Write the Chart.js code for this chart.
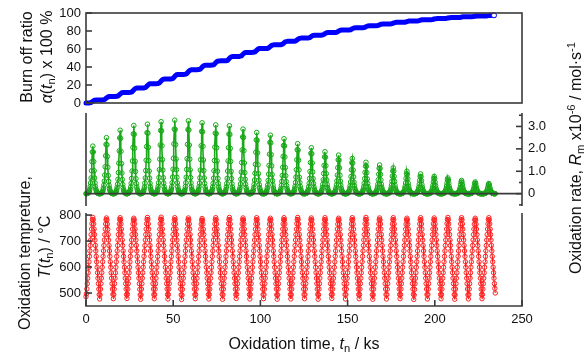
<!DOCTYPE html>
<html><head><meta charset="utf-8">
<script src="https://cdn.jsdelivr.net/npm/chart.js@4.4.1/dist/chart.umd.min.js"></script>
<style>
html,body{margin:0;padding:0;background:#fff;width:586px;height:354px;overflow:hidden;}
canvas{position:absolute;left:0;top:0;}
.t{position:absolute;white-space:nowrap;font-family:"Liberation Sans",Arial,sans-serif;font-size:16px;color:#111;line-height:1;}
.r{transform:translate(-50%,-50%) rotate(-90deg);}
.c{transform:translate(-50%,-50%);}
sub,sup{font-size:0.7em;line-height:0;}
sub{vertical-align:-0.3em;}
sup{vertical-align:0.55em;}
</style></head><body>
<canvas id="c1" width="586" height="354"></canvas>
<canvas id="c2" width="586" height="354"></canvas>
<canvas id="c3" width="586" height="354"></canvas>
<div class="t r" style="left:27px;top:57px">Burn off ratio</div>
<div class="t r" style="left:47px;top:57px"><i>α</i>(<i>t</i><sub>n</sub>) x 100 %</div>
<div class="t r" style="left:25px;top:253px">Oxidation tempreture,</div>
<div class="t r" style="left:45px;top:247px"><i>T</i>(<i>t</i><sub>n</sub>) / °C</div>
<div class="t r" style="left:576px;top:158px">Oxidation rate, <i>R</i><sub>m</sub> x10<sup>-6</sup> / mol·s<sup>-1</sup></div>
<div class="t c" style="left:304px;top:344px">Oxidation time, <i>t</i><sub>n</sub> / ks</div>
<script>
// ---- data ----
const timeStepKs = 0.2447;      // sampling interval of rate & temperature records (ks)
const burnOffStepKs = 0.9788;   // sampling interval of the burn-off record (ks)
const timeTicks = [0, 50, 100, 150, 200, 250];
const burnTicks = [0, 20, 40, 60, 80, 100];
const rateTicks = [0, 1, 2, 3];
const rateMinorTicks = [-0.5, 0.5, 1.5, 2.5, 3.5];
const tempTicks = [500, 600, 700, 800];

const burnOffRatio = [
0,0,0.1,0.5,1.9,3.1,3.3,3.4,
3.4,3.4,3.4,3.9,5.6,7.0,7.3,7.3,
7.3,7.3,7.4,8.0,9.9,11.4,11.8,11.8,
11.8,11.8,11.9,12.5,14.6,16.2,16.6,16.6,
16.6,16.6,16.7,17.3,19.4,21.1,21.5,21.5,
21.5,21.5,21.6,22.3,24.4,26.2,26.6,26.6,
26.6,26.6,26.7,27.4,29.6,31.4,31.8,31.8,
31.8,31.8,31.9,32.6,34.8,36.5,36.9,37.0,
37.0,37.0,37.1,37.7,39.8,41.5,41.9,42.0,
42.0,42.0,42.1,42.7,44.8,46.4,46.8,46.9,
46.9,46.9,46.9,47.5,49.6,51.2,51.6,51.7,
51.7,51.7,51.8,52.3,54.3,55.8,56.2,56.2,
56.2,56.2,56.3,56.8,58.7,60.2,60.5,60.6,
60.6,60.6,60.6,61.1,62.9,64.3,64.6,64.7,
64.7,64.7,64.8,65.2,66.9,68.2,68.5,68.6,
68.6,68.6,68.6,69.1,70.6,71.8,72.1,72.1,
72.1,72.1,72.2,72.6,74.0,75.1,75.3,75.4,
75.4,75.4,75.4,75.8,77.1,78.1,78.3,78.3,
78.3,78.3,78.4,78.7,79.9,80.8,81.0,81.1,
81.1,81.1,81.1,81.4,82.5,83.3,83.5,83.5,
83.5,83.5,83.6,83.8,84.8,85.6,85.7,85.8,
85.8,85.8,85.8,86.0,86.9,87.6,87.8,87.8,
87.8,87.8,87.8,88.0,88.8,89.4,89.6,89.6,
89.6,89.6,89.6,89.8,90.5,91.1,91.2,91.2,
91.2,91.2,91.2,91.4,92.0,92.5,92.6,92.6,
92.6,92.6,92.6,92.8,93.3,93.7,93.8,93.8,
93.8,93.8,93.8,94.0,94.4,94.8,94.9,94.9,
94.9,94.9,94.9,95.0,95.5,95.8,95.8,95.9,
95.9,95.9,95.9,96.0,96.3,96.6,96.7,96.7,
96.7,96.7,96.7,96.8,97.1,97.3,97.4,97.4
];

const oxidationRate = [
0,0,0.01,0.01,0.02,0.03,0.05,0.08,0.13,0.21,0.32,0.48,0.70,1.02,1.43,1.86,2.12,1.86,1.43,1.02,0.70,0.48,0.32,0.21,0.13,0.08,0.05,0.03,0.02,0.01,0.01,0,
0,0,0.01,0.01,0.02,0.04,0.06,0.10,0.16,0.25,0.38,0.56,0.83,1.20,1.69,2.20,2.50,2.18,1.66,1.18,0.81,0.55,0.37,0.24,0.16,0.10,0.06,0.04,0.02,0.01,0.01,0,
0,0,0.01,0.01,0.03,0.04,0.07,0.11,0.18,0.28,0.42,0.64,0.94,1.36,1.91,2.49,2.83,2.47,1.89,1.34,0.92,0.63,0.41,0.27,0.17,0.11,0.07,0.04,0.03,0.01,0.01,0,
0,0,0.01,0.02,0.03,0.05,0.08,0.12,0.19,0.30,0.46,0.68,1.01,1.46,2.06,2.67,3.04,2.65,2.03,1.44,0.99,0.67,0.45,0.29,0.19,0.12,0.08,0.05,0.03,0.02,0.01,0,
0,0,0.01,0.02,0.03,0.05,0.08,0.12,0.20,0.30,0.47,0.70,1.03,1.49,2.10,2.72,3.10,2.70,2.07,1.47,1.01,0.69,0.46,0.30,0.19,0.12,0.08,0.05,0.03,0.02,0.01,0,
0,0,0.01,0.02,0.03,0.05,0.08,0.13,0.20,0.31,0.48,0.72,1.07,1.54,2.17,2.82,3.21,2.80,2.14,1.52,1.05,0.71,0.47,0.31,0.20,0.13,0.08,0.05,0.03,0.02,0.01,0,
0,0,0.01,0.02,0.03,0.05,0.08,0.13,0.21,0.32,0.49,0.74,1.09,1.58,2.22,2.88,3.28,2.86,2.19,1.55,1.07,0.73,0.48,0.31,0.20,0.13,0.08,0.05,0.03,0.02,0.01,0,
0,0,0.01,0.02,0.03,0.05,0.08,0.13,0.20,0.32,0.49,0.73,1.08,1.56,2.20,2.86,3.25,2.84,2.17,1.54,1.06,0.72,0.48,0.31,0.20,0.13,0.08,0.05,0.03,0.02,0.01,0,
0,0,0.01,0.02,0.03,0.05,0.08,0.13,0.20,0.31,0.47,0.71,1.05,1.52,2.14,2.78,3.16,2.76,2.11,1.50,1.03,0.70,0.46,0.30,0.19,0.12,0.08,0.05,0.03,0.02,0.01,0,
0,0,0.01,0.02,0.03,0.05,0.08,0.12,0.19,0.30,0.46,0.69,1.02,1.48,2.08,2.70,3.07,2.68,2.05,1.46,1.00,0.68,0.45,0.29,0.19,0.12,0.08,0.05,0.03,0.02,0.01,0,
0,0,0.01,0.02,0.03,0.05,0.08,0.12,0.19,0.30,0.45,0.68,1.01,1.46,2.05,2.66,3.03,2.64,2.02,1.44,0.99,0.67,0.44,0.29,0.18,0.12,0.07,0.05,0.03,0.02,0.01,0,
0,0,0.01,0.01,0.03,0.04,0.07,0.12,0.18,0.28,0.43,0.65,0.96,1.39,1.95,2.53,2.88,2.51,1.92,1.37,0.94,0.64,0.42,0.28,0.18,0.11,0.07,0.04,0.03,0.01,0.01,0,
0,0,0.01,0.01,0.02,0.04,0.07,0.11,0.17,0.27,0.41,0.61,0.91,1.31,1.85,2.40,2.73,2.38,1.82,1.29,0.89,0.60,0.40,0.26,0.17,0.11,0.07,0.04,0.02,0.01,0.01,0,
0,0,0.01,0.01,0.02,0.04,0.07,0.10,0.16,0.26,0.39,0.59,0.87,1.26,1.76,2.29,2.61,2.27,1.74,1.24,0.85,0.58,0.38,0.25,0.16,0.10,0.06,0.04,0.02,0.01,0.01,0,
0,0,0.01,0.01,0.02,0.04,0.06,0.10,0.15,0.24,0.37,0.55,0.81,1.18,1.66,2.15,2.45,2.13,1.64,1.16,0.80,0.54,0.36,0.24,0.15,0.09,0.06,0.04,0.02,0.01,0.01,0,
0,0,0.01,0.01,0.02,0.03,0.06,0.09,0.14,0.22,0.33,0.50,0.74,1.07,1.51,1.96,2.23,1.94,1.49,1.06,0.73,0.49,0.33,0.21,0.14,0.09,0.05,0.03,0.02,0.01,0.01,0,
0,0,0.01,0.01,0.02,0.03,0.05,0.08,0.13,0.20,0.31,0.46,0.68,0.99,1.39,1.80,2.05,1.78,1.37,0.97,0.67,0.45,0.30,0.20,0.13,0.08,0.05,0.03,0.02,0.01,0.01,0,
0,0,0,0.01,0.02,0.03,0.05,0.07,0.12,0.18,0.28,0.42,0.62,0.90,1.26,1.64,1.87,1.63,1.25,0.89,0.61,0.41,0.27,0.18,0.11,0.07,0.05,0.03,0.02,0.01,0,0,
0,0,0,0.01,0.02,0.03,0.04,0.07,0.11,0.17,0.26,0.39,0.57,0.83,1.16,1.51,1.72,1.50,1.15,0.82,0.56,0.38,0.25,0.17,0.11,0.07,0.04,0.03,0.02,0.01,0,0,
0,0,0,0.01,0.01,0.02,0.04,0.06,0.10,0.15,0.24,0.35,0.52,0.76,1.06,1.38,1.57,1.37,1.05,0.75,0.51,0.35,0.23,0.15,0.10,0.06,0.04,0.02,0.01,0.01,0,0,
0,0,0,0.01,0.01,0.02,0.04,0.06,0.09,0.14,0.21,0.32,0.46,0.67,0.95,1.23,1.40,1.22,0.94,0.66,0.46,0.31,0.21,0.14,0.09,0.06,0.04,0.02,0.01,0.01,0,0,
0,0,0,0.01,0.01,0.02,0.03,0.05,0.08,0.13,0.19,0.29,0.42,0.62,0.87,1.13,1.28,1.12,0.86,0.61,0.42,0.28,0.19,0.12,0.08,0.05,0.03,0.02,0.01,0.01,0,0,
0,0,0,0.01,0.01,0.02,0.03,0.05,0.07,0.11,0.17,0.26,0.38,0.55,0.78,1.01,1.15,1.00,0.77,0.55,0.37,0.25,0.17,0.11,0.07,0.05,0.03,0.02,0.01,0.01,0,0,
0,0,0,0,0.01,0.02,0.03,0.04,0.06,0.10,0.15,0.23,0.33,0.48,0.68,0.88,1.00,0.87,0.67,0.47,0.33,0.22,0.15,0.10,0.06,0.04,0.03,0.02,0.01,0,0,0,
0,0,0,0,0.01,0.01,0.02,0.04,0.06,0.09,0.13,0.20,0.29,0.42,0.59,0.77,0.88,0.76,0.58,0.41,0.29,0.19,0.13,0.09,0.06,0.04,0.02,0.01,0.01,0,0,0,
0,0,0,0,0.01,0.01,0.02,0.03,0.05,0.08,0.12,0.17,0.26,0.37,0.52,0.68,0.77,0.67,0.51,0.36,0.25,0.17,0.11,0.08,0.05,0.03,0.02,0.01,0.01,0,0,0,
0,0,0,0,0.01,0.01,0.02,0.03,0.04,0.07,0.11,0.16,0.23,0.34,0.47,0.62,0.70,0.61,0.46,0.33,0.23,0.16,0.11,0.07,0.04,0.03,0.02,0.01,0.01,0,0,0,
0,0,0,0,0.01,0.01,0.01,0.02,0.04,0.06,0.09,0.13,0.20,0.28,0.40,0.52,0.59,0.51,0.39,0.28,0.19,0.13,0.09,0.06,0.04,0.02,0.01,0.01,0.01,0,0,0,
0,0,0,0,0,0.01,0.01,0.02,0.03,0.05,0.08,0.12,0.17,0.25,0.35,0.46,0.52,0.45,0.34,0.24,0.17,0.12,0.08,0.05,0.03,0.02,0.01,0.01,0,0,0,0,
0,0,0,0,0,0.01,0.01,0.02,0.03,0.04,0.07,0.10,0.15,0.22,0.30,0.40,0.45,0.39,0.29,0.21,0.15,0.10,0.07,0.04,0.03,0.02,0.01,0.01,0,0,0,0
];

const oxidationTemp = [
486,497,516,536,557,578,599,620,641,662,683,704,725,746,767,783,791,782,766,746,725,704,683,662,641,620,599,578,557,536,515,494,
477,493,515,536,557,578,599,620,641,662,683,704,725,746,766,782,789,781,765,745,725,704,683,662,641,620,599,578,557,536,515,495,
478,494,515,536,557,578,599,620,641,662,683,704,725,746,766,783,790,782,766,746,725,704,683,662,641,620,599,578,557,536,515,494,
479,495,515,536,557,578,599,620,641,662,683,704,725,746,766,781,788,781,766,746,725,704,683,662,641,620,599,578,557,536,514,493,
476,493,515,536,557,578,599,620,641,662,683,704,725,746,767,783,791,783,766,746,725,704,683,662,641,620,599,578,557,536,515,494,
478,494,515,536,557,578,599,620,641,662,683,704,725,746,767,784,792,783,767,746,725,704,683,662,641,620,599,578,557,536,515,494,
477,494,515,536,557,578,599,620,641,662,683,704,725,746,766,782,790,782,766,746,725,704,683,662,641,620,599,578,557,536,515,493,
475,492,514,536,557,578,599,620,641,662,683,704,725,746,766,782,789,781,766,746,725,704,683,662,641,620,599,578,557,536,515,494,
478,494,515,536,557,578,599,620,641,662,683,704,725,746,765,780,787,780,765,745,725,704,683,662,641,620,599,578,557,536,515,494,
477,494,515,536,557,578,599,620,641,662,683,704,725,746,766,782,790,782,766,746,725,704,683,662,641,620,599,578,557,536,515,495,
476,493,515,536,557,578,599,620,641,662,683,704,725,746,767,783,791,782,766,746,725,704,683,662,641,620,599,578,557,536,515,494,
479,495,515,536,557,578,599,620,641,662,683,704,725,746,766,782,789,781,766,746,725,704,683,662,641,620,599,578,557,536,515,494,
477,494,515,536,557,578,599,620,641,662,683,704,725,746,766,782,790,782,766,746,725,704,683,662,641,620,599,578,557,536,515,494,
478,494,515,536,557,578,599,620,641,662,683,704,725,746,765,781,788,781,765,746,725,704,683,662,641,620,599,578,557,536,515,493,
476,493,515,536,557,578,599,620,641,662,683,704,725,746,766,782,790,782,766,746,725,704,683,662,641,620,599,578,557,536,515,494,
477,494,515,536,557,578,599,620,641,662,683,704,725,746,767,783,791,783,766,746,725,704,683,662,641,620,599,578,557,536,515,494,
478,494,515,536,557,578,599,620,641,662,683,704,725,746,766,782,789,781,766,746,725,704,683,662,641,620,599,578,557,536,515,495,
476,493,515,536,557,578,599,620,641,662,683,704,725,746,766,782,790,782,766,746,725,704,683,662,641,620,599,578,557,536,515,494,
479,495,515,536,557,578,599,620,641,662,683,704,725,746,765,781,788,781,765,746,725,704,683,662,641,620,599,578,557,536,515,494,
477,494,515,536,557,578,599,620,641,662,683,704,725,746,766,782,790,782,766,746,725,704,683,662,641,620,599,578,557,536,515,494,
478,494,515,536,557,578,599,620,641,662,683,704,725,746,767,783,791,782,766,746,725,704,683,662,641,620,599,578,557,536,515,493,
476,493,515,536,557,578,599,620,641,662,683,704,725,746,766,782,789,781,766,746,725,704,683,662,641,620,599,578,557,536,515,494,
477,494,515,536,557,578,599,620,641,662,683,704,725,746,766,782,790,782,766,746,725,704,683,662,641,620,599,578,557,536,515,494,
478,494,515,536,557,578,599,620,641,662,683,704,725,746,765,781,788,781,765,746,725,704,683,662,641,620,599,578,557,536,515,495,
475,492,514,536,557,578,599,620,641,662,683,704,725,746,766,782,790,782,766,746,725,704,683,662,641,620,599,578,557,536,515,494,
477,494,515,536,557,578,599,620,641,662,683,704,725,746,766,782,789,781,766,746,725,704,683,662,641,620,599,578,557,536,515,494,
478,494,515,536,557,578,599,620,641,662,683,704,725,746,767,783,791,782,766,746,725,704,683,662,641,620,599,578,557,536,515,494,
476,493,515,536,557,578,599,620,641,662,683,704,725,746,766,782,790,782,766,746,725,704,683,662,641,620,599,578,557,536,515,493,
477,494,515,536,557,578,599,620,641,662,683,704,725,746,765,781,788,781,765,746,725,704,683,662,641,620,599,578,557,536,515,494,
478,494,515,536,557,578,599,620,641,662,683,704,725,746,766,782,790,782,766,746,725,704,683,662,641,620,599,578,557,536,518,500
];

// ---- drawing ----
const FONT = {family: '"Liberation Sans", Arial, sans-serif', size: 13};
const TXT = '#111';
const AX = '#3a3a3a';
const AXW = 1.6;
const TICK = 6;
const RED = '#ff2020';
const GREEN = '#18a818';
const BLUE = '#0000ff';
const YW = 40;   // width reserved for y tick labels
const XH = 30;   // height reserved for x tick labels

const toXY = (arr, step) => arr.map((v, i) => ({x: i * step, y: v}));

function base(top, padLeft, padRight, padBottom) {
  return {
    responsive: false, animation: false, devicePixelRatio: 1,
    layout: {padding: {left: padLeft, right: padRight, top: top, bottom: padBottom}},
    plugins: {legend: {display: false}, tooltip: {enabled: false}},
    elements: {line: {tension: 0}}
  };
}
function setTicks(list) { return s => { s.ticks = list.map(v => ({value: v})); }; }
function line(ctx, x1, y1, x2, y2) { ctx.beginPath(); ctx.moveTo(x1, y1); ctx.lineTo(x2, y2); ctx.stroke(); }
const hiddenGrid = {display: false, drawTicks: false, tickLength: 0};

// Panel 1: burn-off ratio
const o1 = base(13, 86 - YW, 586 - 522, 354 - 103);
o1.scales = {
  x: {type: 'linear', min: 0, max: 250, display: false},
  y: {type: 'linear', min: 0, max: 100, afterBuildTicks: setTicks(burnTicks),
      afterFit: s => { s.width = YW; },
      grid: hiddenGrid, border: {display: false},
      ticks: {font: FONT, color: TXT, padding: 5, autoSkip: false}}
};
const lastBurn = burnOffRatio.length - 1;
new Chart(document.getElementById('c1'), {
  type: 'line',
  data: {datasets: [{data: toXY(burnOffRatio, burnOffStepKs), borderColor: BLUE, borderWidth: 5,
    borderJoinStyle: 'round', borderCapStyle: 'round', clip: false,
    pointRadius: c => c.dataIndex === lastBurn ? 2.5 : 0, pointBorderWidth: 1,
    pointBorderColor: BLUE, pointBackgroundColor: '#fff'}]},
  options: o1,
  plugins: [{id: 'frame1', afterDatasetsDraw(chart) {
    const {ctx, chartArea: a, scales} = chart;
    ctx.save(); ctx.strokeStyle = AX; ctx.lineWidth = AXW;
    ctx.strokeRect(a.left, a.top, a.right - a.left, a.bottom - a.top);
    burnTicks.forEach(v => { const y = scales.y.getPixelForValue(v); line(ctx, a.left, y, a.left + TICK, y); });
    ctx.restore();
  }}]
});

// Panel 2: oxidation rate
const o2 = base(113, 86, 586 - 522 - YW, 354 - 206);
o2.scales = {
  x: {type: 'linear', min: 0, max: 250, display: false},
  y: {type: 'linear', position: 'right', min: -0.55, max: 3.6, afterBuildTicks: setTicks(rateTicks),
      afterFit: s => { s.width = YW; },
      grid: hiddenGrid, border: {display: false},
      ticks: {font: FONT, color: TXT, padding: 6, autoSkip: false,
              callback: v => v === 0 ? '0' : v.toFixed(1)}}
};
new Chart(document.getElementById('c2'), {
  type: 'line',
  data: {datasets: [{data: toXY(oxidationRate, timeStepKs), borderColor: GREEN, borderWidth: 1.6, clip: false,
    pointRadius: 2.3, pointBorderWidth: 1, pointBorderColor: GREEN, pointBackgroundColor: 'rgba(255,255,255,0)'}]},
  options: o2,
  plugins: [{id: 'frame2', afterDatasetsDraw(chart) {
    const {ctx, chartArea: a, scales} = chart;
    ctx.save(); ctx.strokeStyle = AX; ctx.lineWidth = AXW;
    line(ctx, a.left, a.top, a.left, a.bottom);
    line(ctx, a.right, a.top, a.right, a.bottom);
    const y0 = scales.y.getPixelForValue(0);
    line(ctx, a.left, y0, a.right, y0);
    rateTicks.forEach(v => { const y = scales.y.getPixelForValue(v); line(ctx, a.right, y, a.right - TICK, y); });
    rateMinorTicks.forEach(v => { const y = scales.y.getPixelForValue(v); line(ctx, a.right, y, a.right - 3, y); });
    ctx.restore();
  }}]
});

// Panel 3: oxidation temperature
const o3 = base(213, 86 - YW, 586 - 522, 354 - 306 - XH);
o3.scales = {
  x: {type: 'linear', min: 0, max: 250, afterBuildTicks: setTicks(timeTicks),
      afterFit: s => { s.height = XH; },
      grid: hiddenGrid, border: {display: false},
      ticks: {font: FONT, color: TXT, padding: 6, maxRotation: 0, autoSkip: false}},
  y: {type: 'linear', min: 450, max: 808, afterBuildTicks: setTicks(tempTicks),
      afterFit: s => { s.width = YW; },
      grid: hiddenGrid, border: {display: false},
      ticks: {font: FONT, color: TXT, padding: 5, autoSkip: false}}
};
new Chart(document.getElementById('c3'), {
  type: 'line',
  data: {datasets: [{data: toXY(oxidationTemp, timeStepKs), borderColor: RED, borderWidth: 1, clip: false,
    pointRadius: 2.2, pointBorderWidth: 1, pointBorderColor: RED, pointBackgroundColor: 'rgba(255,255,255,0)'}]},
  options: o3,
  plugins: [{id: 'frame3', afterDatasetsDraw(chart) {
    const {ctx, chartArea: a, scales} = chart;
    ctx.save(); ctx.strokeStyle = AX; ctx.lineWidth = AXW;
    line(ctx, a.left, a.top, a.left, a.bottom);
    line(ctx, a.right, a.top, a.right, a.bottom);
    line(ctx, a.left - AXW / 2, a.bottom, a.right + AXW / 2, a.bottom);
    tempTicks.forEach(v => { const y = scales.y.getPixelForValue(v); line(ctx, a.left, y, a.left + TICK, y); });
    timeTicks.forEach(v => { const x = scales.x.getPixelForValue(v); line(ctx, x, a.bottom, x, a.bottom - TICK); });
    ctx.restore();
  }}]
});
</script>
</body></html>
